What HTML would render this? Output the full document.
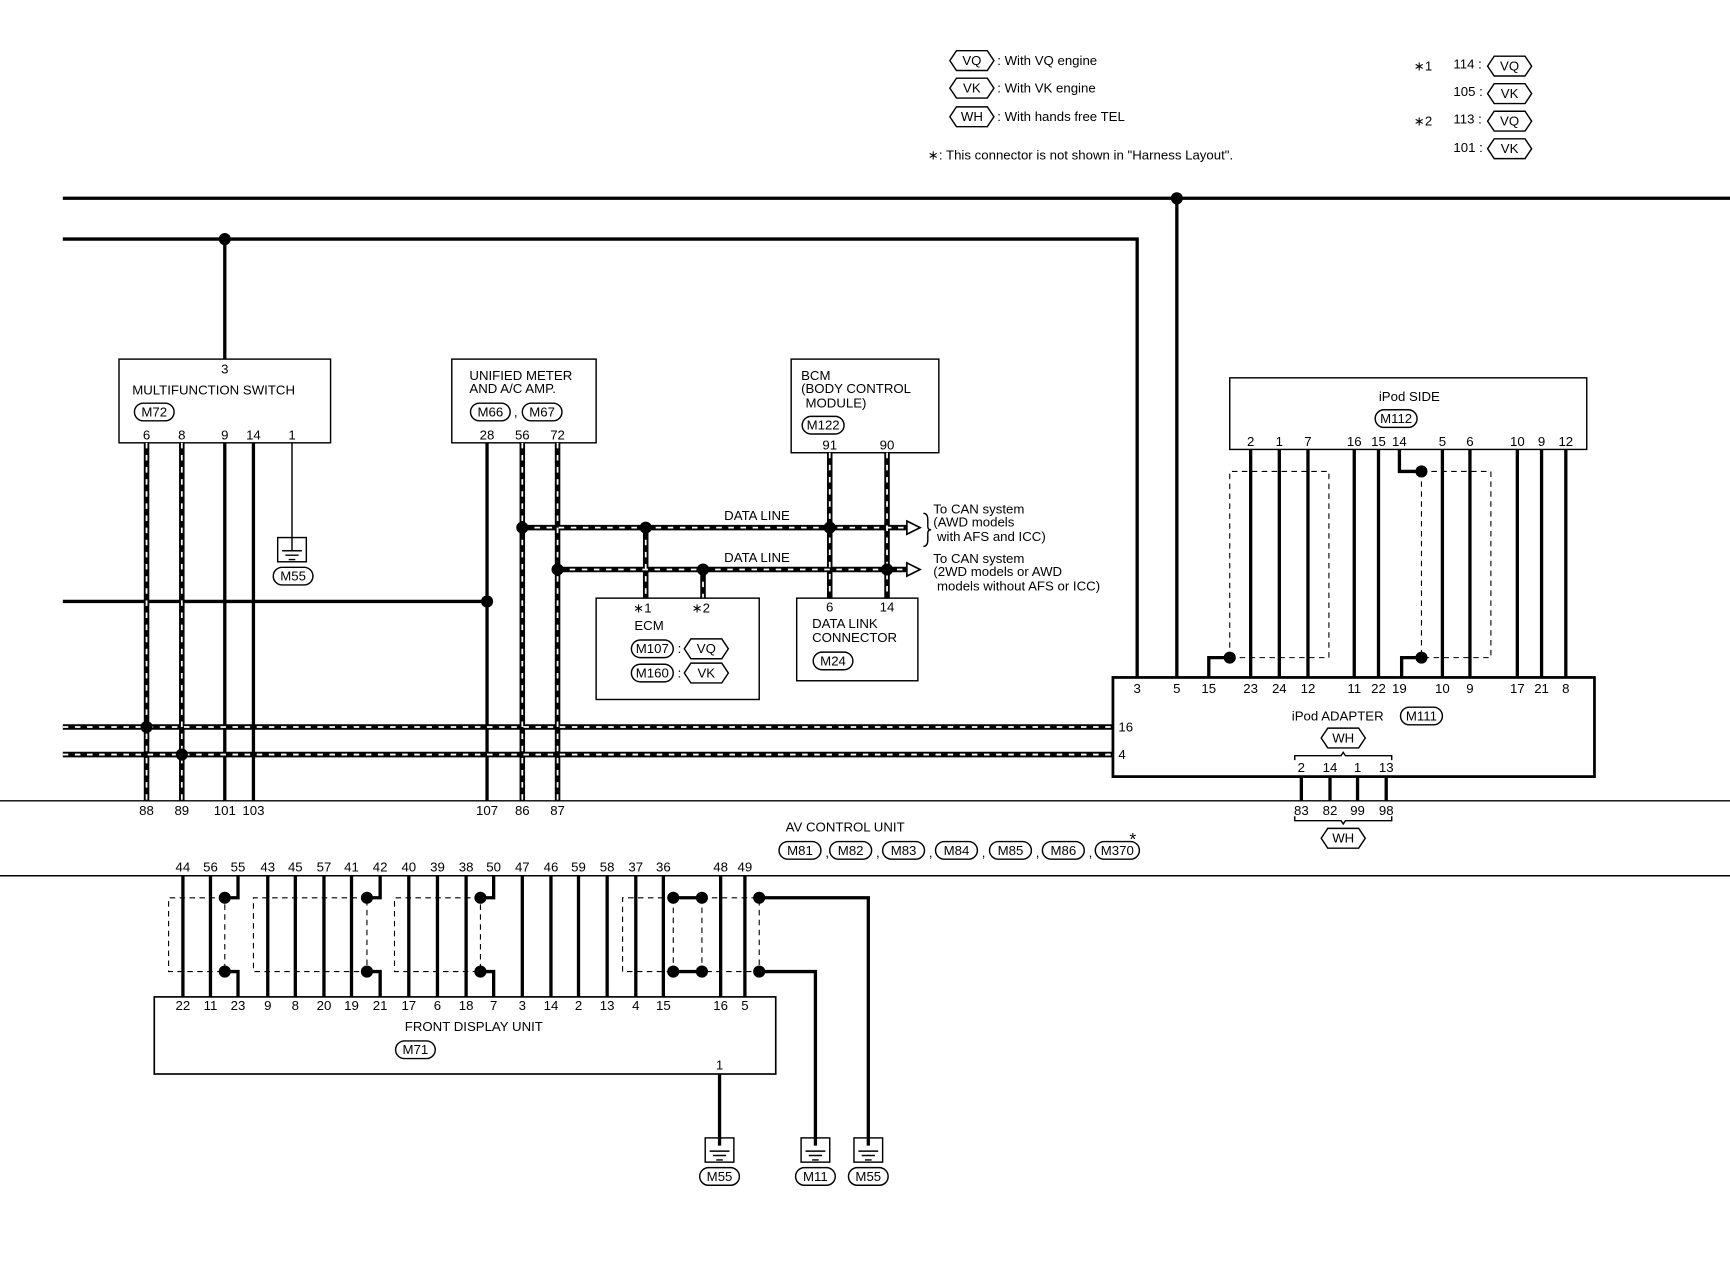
<!DOCTYPE html>
<html><head><meta charset="utf-8"><style>
html,body{margin:0;padding:0;background:#fff}
svg{display:block}
text{font-family:"Liberation Sans",sans-serif;font-size:12px;fill:#000}
.m{text-anchor:middle}
.w{stroke:#000;stroke-width:3;fill:none}
.t{stroke:#000;stroke-width:1.3;fill:none}
.d{stroke:#000;stroke-width:1;fill:none;stroke-dasharray:5 4}
.o{stroke:#000;stroke-width:1.3;fill:#fff}
</style></head><body>
<svg width="1730" height="1280" viewBox="0 0 1570 1162" preserveAspectRatio="none" xmlns="http://www.w3.org/2000/svg">
<defs>
<g id="st">
<path d="M133 402V727M165 402V727M474 402V727M506 402V727M57 660H1010M57 685H1010M474 479H826M506 517H826M753 411V543M805 411V543M586 479V543M638 517V543"/>
</g>
</defs>
<!-- Legend -->
<polygon class="o" points="862,55 868,46 896,46 902,55 896,64 868,64"/><text x="882" y="59" class="m">VQ</text><text x="905" y="59">: With VQ engine</text>
<polygon class="o" points="862,80 868,71 896,71 902,80 896,89 868,89"/><text x="882" y="84" class="m">VK</text><text x="905" y="84">: With VK engine</text>
<polygon class="o" points="862,106 868,97 896,97 902,106 896,115 868,115"/><text x="882" y="110" class="m">WH</text><text x="905" y="110">: With hands free TEL</text>
<text x="842" y="145">∗: This connector is not shown in "Harness Layout".</text>
<text x="1283" y="64">∗1</text><text x="1319" y="62">114 :</text><polygon class="o" points="1350,60 1356,51 1384,51 1390,60 1384,69 1356,69"/><text x="1370" y="64" class="m">VQ</text>
<text x="1319" y="87">105 :</text><polygon class="o" points="1350,85 1356,76 1384,76 1390,85 1384,94 1356,94"/><text x="1370" y="89" class="m">VK</text>
<text x="1283" y="114">∗2</text><text x="1319" y="112">113 :</text><polygon class="o" points="1350,110 1356,101 1384,101 1390,110 1384,119 1356,119"/><text x="1370" y="114" class="m">VQ</text>
<text x="1319" y="138">101 :</text><polygon class="o" points="1350,135 1356,126 1384,126 1390,135 1384,144 1356,144"/><text x="1370" y="139" class="m">VK</text>

<path class="w" d="M57 180H1570M1068 180V615M57 217H1032V615M204 217V326M57 546H442"/>
<path class="t" d="M0 727H1570M0 795H1570"/>
<rect class="t" x="108" y="326" width="192" height="76"/>
<text x="204" y="339" class="m">3</text><text x="120" y="358">MULTIFUNCTION SWITCH</text>
<rect class="o" x="122" y="366" width="36" height="16" rx="8"/><text x="140" y="378" class="m">M72</text>
<text x="133" y="399" class="m">6</text><text x="165" y="399" class="m">8</text><text x="204" y="399" class="m">9</text><text x="230" y="399" class="m">14</text><text x="265" y="399" class="m">1</text>
<path class="w" d="M204 402V727M230 402V727M442 402V727"/>
<path class="t" d="M265 402V500"/>
<rect class="t" x="252" y="488" width="26" height="22"/><path class="t" d="M256 500H274M259 504H271M262 508H268"/>
<rect class="o" x="248" y="515" width="36" height="16" rx="8"/><text x="266" y="527" class="m">M55</text>
<rect class="t" x="410" y="326" width="131" height="76"/>
<text x="426" y="345">UNIFIED METER</text><text x="426" y="357">AND A/C AMP.</text>
<rect class="o" x="427" y="366" width="36" height="16" rx="8"/><text x="445" y="378" class="m">M66</text><text x="468" y="378" class="m">,</text>
<rect class="o" x="474" y="366" width="36" height="16" rx="8"/><text x="492" y="378" class="m">M67</text>
<text x="442" y="399" class="m">28</text><text x="474" y="399" class="m">56</text><text x="506" y="399" class="m">72</text>
<rect class="t" x="718" y="326" width="134" height="85"/>
<text x="727" y="345">BCM</text><text x="727" y="357">(BODY CONTROL</text><text x="731" y="370">MODULE)</text>
<rect class="o" x="728" y="378" width="38" height="16" rx="8"/><text x="747" y="390" class="m">M122</text>
<text x="753" y="408" class="m">91</text><text x="805" y="408" class="m">90</text>
<use href="#st" stroke="#000" stroke-width="5" fill="none"/>
<use href="#st" stroke="#fff" stroke-width="1.6" stroke-dasharray="5 6" fill="none"/>
<polygon points="823,473 835,479 823,485" fill="#fff" stroke="#000" stroke-width="1.5"/>
<polygon points="823,511 835,517 823,523" fill="#fff" stroke="#000" stroke-width="1.5"/>
<text x="687" y="472" class="m">DATA LINE</text><text x="687" y="510" class="m">DATA LINE</text>
<path class="t" d="M838 466q4 0 4 6v6q0 3 3 3q-3 0 -3 3v6q0 6 -4 6"/>
<text x="847" y="466">To CAN system</text><text x="847" y="478">(AWD models</text><text x="847" y="491">&#160;with AFS and ICC)</text>
<text x="847" y="511">To CAN system</text><text x="847" y="523">(2WD models or AWD</text><text x="847" y="536">&#160;models without AFS or ICC)</text>
<rect class="t" x="541" y="543" width="148" height="92"/>
<text x="583" y="556" class="m">∗1</text><text x="636" y="556" class="m">∗2</text>
<text x="589" y="572" class="m">ECM</text>
<rect class="o" x="573" y="581" width="38" height="16" rx="8"/><text x="592" y="593" class="m">M107</text><text x="615" y="593">:</text>
<polygon class="o" points="621,589 627,580 655,580 661,589 655,598 627,598"/><text x="641" y="593" class="m">VQ</text>
<rect class="o" x="573" y="603" width="38" height="16" rx="8"/><text x="592" y="615" class="m">M160</text><text x="615" y="615">:</text>
<polygon class="o" points="621,611 627,602 655,602 661,611 655,620 627,620"/><text x="641" y="615" class="m">VK</text>
<rect class="t" x="723" y="543" width="110" height="75"/>
<text x="753" y="555" class="m">6</text><text x="805" y="555" class="m">14</text>
<text x="737" y="570">DATA LINK</text><text x="737" y="583">CONNECTOR</text>
<rect class="o" x="738" y="592" width="36" height="16" rx="8"/><text x="756" y="604" class="m">M24</text>
<g fill="#000">
<circle cx="1068" cy="180" r="5.5"/><circle cx="204" cy="217" r="5.5"/><circle cx="442" cy="546" r="5.5"/>
<circle cx="133" cy="660" r="5.5"/><circle cx="165" cy="685" r="5.5"/>
<circle cx="474" cy="479" r="5.5"/><circle cx="506" cy="517" r="5.5"/>
<circle cx="586" cy="479" r="5.5"/><circle cx="753" cy="479" r="5.5"/><circle cx="638" cy="517" r="5.5"/><circle cx="805" cy="517" r="5.5"/>
</g>
<text x="133" y="740" class="m">88</text><text x="165" y="740" class="m">89</text><text x="204" y="740" class="m">101</text><text x="230" y="740" class="m">103</text>
<text x="442" y="740" class="m">107</text><text x="474" y="740" class="m">86</text><text x="506" y="740" class="m">87</text>
<rect class="t" x="1116" y="343" width="324" height="65"/>
<text x="1279" y="364" class="m">iPod SIDE</text>
<rect class="o" x="1248" y="372" width="38" height="16" rx="8"/><text x="1267" y="384" class="m">M112</text>
<text x="1135" y="405" class="m">2</text><text x="1161" y="405" class="m">1</text><text x="1187" y="405" class="m">7</text><text x="1229" y="405" class="m">16</text><text x="1251" y="405" class="m">15</text><text x="1270" y="405" class="m">14</text><text x="1309" y="405" class="m">5</text><text x="1334" y="405" class="m">6</text><text x="1377" y="405" class="m">10</text><text x="1399" y="405" class="m">9</text><text x="1421" y="405" class="m">12</text>
<path class="w" d="M1135 408V615M1161 408V615M1187 408V615M1229 408V615M1251 408V615M1309 408V615M1334 408V615M1377 408V615M1399 408V615M1421 408V615M1270 408V428H1290M1097 615V597H1116M1290 597H1272V615"/>
<path class="d" d="M1116 597V428H1206V597H1116M1290 428H1353V597H1290V428"/>
<circle cx="1116" cy="597" r="5.5"/><circle cx="1290" cy="428" r="5.5"/><circle cx="1290" cy="597" r="5.5"/>
<rect class="w" x="1010" y="615" width="437" height="90" style="stroke-width:2.5"/>
<text x="1032" y="629" class="m">3</text><text x="1068" y="629" class="m">5</text><text x="1097" y="629" class="m">15</text><text x="1135" y="629" class="m">23</text><text x="1161" y="629" class="m">24</text><text x="1187" y="629" class="m">12</text><text x="1229" y="629" class="m">11</text><text x="1251" y="629" class="m">22</text><text x="1270" y="629" class="m">19</text><text x="1309" y="629" class="m">10</text><text x="1334" y="629" class="m">9</text><text x="1377" y="629" class="m">17</text><text x="1399" y="629" class="m">21</text><text x="1421" y="629" class="m">8</text>
<text x="1015" y="664">16</text><text x="1015" y="689">4</text>
<text x="1214" y="654" class="m">iPod ADAPTER</text>
<rect class="o" x="1271" y="642" width="38" height="16" rx="8"/><text x="1290" y="654" class="m">M111</text>
<polygon class="o" points="1199,670 1205,661 1233,661 1239,670 1233,679 1205,679"/><text x="1219" y="674" class="m">WH</text>
<path class="t" d="M1175 690V686H1217L1219 683L1221 686H1263V690"/>
<text x="1181" y="701" class="m">2</text><text x="1207" y="701" class="m">14</text><text x="1232" y="701" class="m">1</text><text x="1258" y="701" class="m">13</text>
<path class="w" d="M1181 705V727M1207 705V727M1232 705V727M1258 705V727"/>
<text x="1181" y="740" class="m">83</text><text x="1207" y="740" class="m">82</text><text x="1232" y="740" class="m">99</text><text x="1258" y="740" class="m">98</text>
<path class="t" d="M1175 741V745H1217L1219 748L1221 745H1263V741"/>
<polygon class="o" points="1199,761 1205,752 1233,752 1239,761 1233,770 1205,770"/><text x="1219" y="765" class="m">WH</text>
<text x="767" y="755" class="m">AV CONTROL UNIT</text>
<rect class="o" x="707" y="764" width="38" height="16" rx="8"/><text x="726" y="776" class="m">M81</text><text x="749" y="778">,</text>
<rect class="o" x="753" y="764" width="38" height="16" rx="8"/><text x="772" y="776" class="m">M82</text><text x="795" y="778">,</text>
<rect class="o" x="801" y="764" width="38" height="16" rx="8"/><text x="820" y="776" class="m">M83</text><text x="843" y="778">,</text>
<rect class="o" x="849" y="764" width="38" height="16" rx="8"/><text x="868" y="776" class="m">M84</text><text x="891" y="778">,</text>
<rect class="o" x="898" y="764" width="38" height="16" rx="8"/><text x="917" y="776" class="m">M85</text><text x="940" y="778">,</text>
<rect class="o" x="946" y="764" width="38" height="16" rx="8"/><text x="965" y="776" class="m">M86</text><text x="988" y="778">,</text>
<rect class="o" x="994" y="764" width="40" height="16" rx="8"/><text x="1014" y="776" class="m">M370</text>
<text x="1028" y="767" class="m" style="font-size:16px">*</text>
<text x="166" y="791" class="m">44</text><text x="191" y="791" class="m">56</text><text x="216" y="791" class="m">55</text><text x="243" y="791" class="m">43</text><text x="268" y="791" class="m">45</text><text x="294" y="791" class="m">57</text><text x="319" y="791" class="m">41</text><text x="345" y="791" class="m">42</text><text x="371" y="791" class="m">40</text><text x="397" y="791" class="m">39</text><text x="423" y="791" class="m">38</text><text x="448" y="791" class="m">50</text><text x="474" y="791" class="m">47</text><text x="500" y="791" class="m">46</text><text x="525" y="791" class="m">59</text><text x="551" y="791" class="m">58</text><text x="577" y="791" class="m">37</text><text x="602" y="791" class="m">36</text><text x="654" y="791" class="m">48</text><text x="676" y="791" class="m">49</text>
<path class="w" d="M166 795V905M191 795V905M243 795V905M268 795V905M294 795V905M319 795V905M371 795V905M397 795V905M423 795V905M474 795V905M500 795V905M525 795V905M551 795V905M577 795V905M602 795V905M654 795V905M676 795V905M216 795V815H204M204 882H216V905M345 795V815H333M333 882H345V905M448 795V815H436M436 882H448V905M611 815H637M611 882H637M689 815H788V1040M689 882H740V1040M653 975V1040"/>
<path class="d" d="M204 815H153V882H204V815M333 815H230V882H333V815M436 815H358V882H436V815M611 815H565V882H611M637 815H689V882H637M611 815V882M637 815V882"/>
<g fill="#000">
<circle cx="204" cy="815" r="5.5"/><circle cx="204" cy="882" r="5.5"/><circle cx="333" cy="815" r="5.5"/><circle cx="333" cy="882" r="5.5"/><circle cx="436" cy="815" r="5.5"/><circle cx="436" cy="882" r="5.5"/>
<circle cx="611" cy="815" r="5.5"/><circle cx="637" cy="815" r="5.5"/><circle cx="611" cy="882" r="5.5"/><circle cx="637" cy="882" r="5.5"/><circle cx="689" cy="815" r="5.5"/><circle cx="689" cy="882" r="5.5"/>
</g>
<rect class="t" x="140" y="905" width="564" height="70" style="stroke-width:1.5"/>
<text x="166" y="917" class="m">22</text><text x="191" y="917" class="m">11</text><text x="216" y="917" class="m">23</text><text x="243" y="917" class="m">9</text><text x="268" y="917" class="m">8</text><text x="294" y="917" class="m">20</text><text x="319" y="917" class="m">19</text><text x="345" y="917" class="m">21</text><text x="371" y="917" class="m">17</text><text x="397" y="917" class="m">6</text><text x="423" y="917" class="m">18</text><text x="448" y="917" class="m">7</text><text x="474" y="917" class="m">3</text><text x="500" y="917" class="m">14</text><text x="525" y="917" class="m">2</text><text x="551" y="917" class="m">13</text><text x="577" y="917" class="m">4</text><text x="602" y="917" class="m">15</text><text x="654" y="917" class="m">16</text><text x="676" y="917" class="m">5</text>
<text x="430" y="936" class="m">FRONT DISPLAY UNIT</text>
<rect class="o" x="359" y="945" width="36" height="16" rx="8"/><text x="377" y="957" class="m">M71</text>
<text x="653" y="971" class="m">1</text>
<rect class="t" x="640" y="1033" width="26" height="22"/><path class="t" d="M644 1045H662M647 1049H659M650 1053H656"/>
<rect class="o" x="635" y="1060" width="36" height="16" rx="8"/><text x="653" y="1072" class="m">M55</text>
<rect class="t" x="727" y="1033" width="26" height="22"/><path class="t" d="M731 1045H749M734 1049H746M737 1053H743"/>
<rect class="o" x="722" y="1060" width="36" height="16" rx="8"/><text x="740" y="1072" class="m">M11</text>
<rect class="t" x="775" y="1033" width="26" height="22"/><path class="t" d="M779 1045H797M782 1049H794M785 1053H791"/>
<rect class="o" x="770" y="1060" width="36" height="16" rx="8"/><text x="788" y="1072" class="m">M55</text>
</svg>
</body></html>
